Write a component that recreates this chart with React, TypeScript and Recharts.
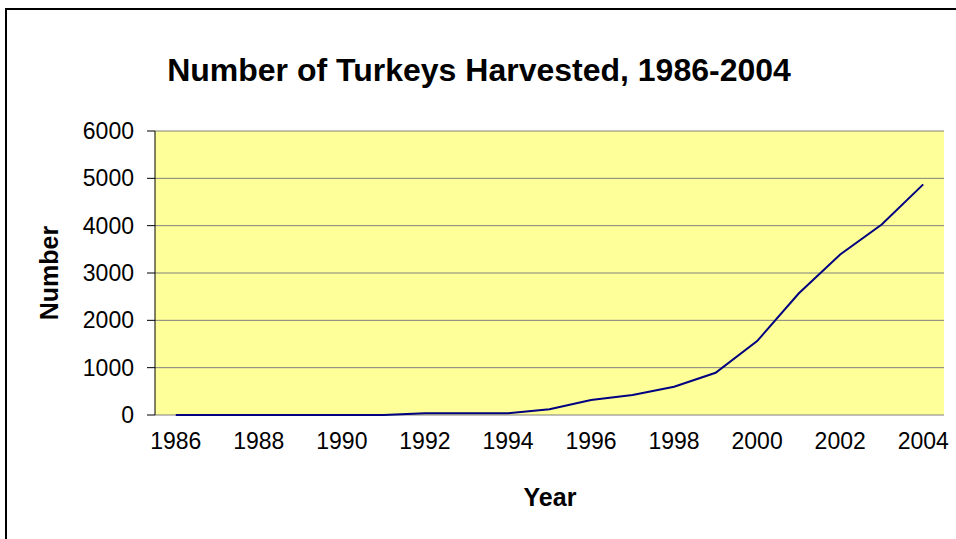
import React from "react";
import {
  LineChart,
  Line,
  XAxis,
  YAxis,
  CartesianGrid,
} from "recharts";

const years = [
  1986, 1987, 1988, 1989, 1990, 1991, 1992, 1993, 1994, 1995,
  1996, 1997, 1998, 1999, 2000, 2001, 2002, 2003, 2004,
];
const harvested = [
  0, 0, 0, 0, 0, 0, 35, 35, 35, 120,
  316, 422, 597, 893, 1561, 2567, 3390, 4023, 4873,
];
const yearLabels = [1986, 1988, 1990, 1992, 1994, 1996, 1998, 2000, 2002, 2004];
const yTicks = [0, 1000, 2000, 3000, 4000, 5000, 6000];

const data = years.map((year, i) => ({ year, value: harvested[i] }));
// tick marks sit between the years, like a category axis
const boundaries = [...years.map((y) => y - 0.5), 2004.5];

const font = "'Liberation Sans', Arial, sans-serif";
const tickStyle = { fontFamily: font, fontSize: 23, fill: "#000" };

const App: React.FC = () => {
  return (
    <div
      style={{
        position: "absolute",
        left: 0,
        top: 0,
        width: 956,
        height: 539,
        overflow: "hidden",
        background: "#fff",
        fontFamily: font,
      }}
    >
      <div
        style={{
          position: "absolute",
          left: 5,
          top: 8,
          width: 1100,
          height: 1100,
          borderLeft: "2px solid #000",
          borderTop: "2px solid #000",
        }}
      />
      <LineChart
        width={956}
        height={539}
        data={data}
        margin={{ top: 131, right: 12, bottom: 64, left: 75 }}
      >
        <CartesianGrid
          xAxisId="lab"
          vertical={false}
          stroke="#808080"
          fill="#FFFF99"
          fillOpacity={1}
        />
        <XAxis
          xAxisId="ticks"
          type="number"
          dataKey="year"
          domain={[1985.5, 2004.5]}
          ticks={boundaries}
          tick={false}
          tickSize={8}
          height={0}
          stroke="#000"
          allowDataOverflow
        />
        <XAxis
          xAxisId="lab"
          type="number"
          dataKey="year"
          domain={[1985.5, 2004.5]}
          ticks={yearLabels}
          tickLine={false}
          axisLine={false}
          tickSize={8}
          tickMargin={10}
          height={60}
          tick={tickStyle}
          interval={0}
          allowDataOverflow
        />
        <YAxis
          domain={[0, 6000]}
          ticks={yTicks}
          width={80}
          tickSize={8}
          tickMargin={13}
          stroke="#000"
          tick={tickStyle}
          interval={0}
        />
        <YAxis
          yAxisId="r"
          orientation="right"
          domain={[0, 1]}
          width={0}
          tick={false}
          tickLine={false}
          stroke="#808080"
        />
        <Line
          xAxisId="lab"
          type="linear"
          dataKey="value"
          stroke="#000080"
          strokeWidth={2}
          dot={false}
          isAnimationActive={false}
        />
      </LineChart>
      <div
        style={{
          position: "absolute",
          left: 0,
          width: 958,
          top: 52,
          lineHeight: "36px",
          textAlign: "center",
          fontSize: 32,
          fontWeight: "bold",
        }}
      >
        Number of Turkeys Harvested, 1986-2004
      </div>
      <div
        style={{
          position: "absolute",
          left: 49,
          top: 273,
          transform: "translate(-50%, -50%) rotate(-90deg)",
          fontSize: 25,
          fontWeight: "bold",
          whiteSpace: "nowrap",
        }}
      >
        Number
      </div>
      <div
        style={{
          position: "absolute",
          left: 550,
          top: 497,
          transform: "translate(-50%, -50%)",
          fontSize: 25,
          fontWeight: "bold",
        }}
      >
        Year
      </div>
    </div>
  );
};

export default App;
